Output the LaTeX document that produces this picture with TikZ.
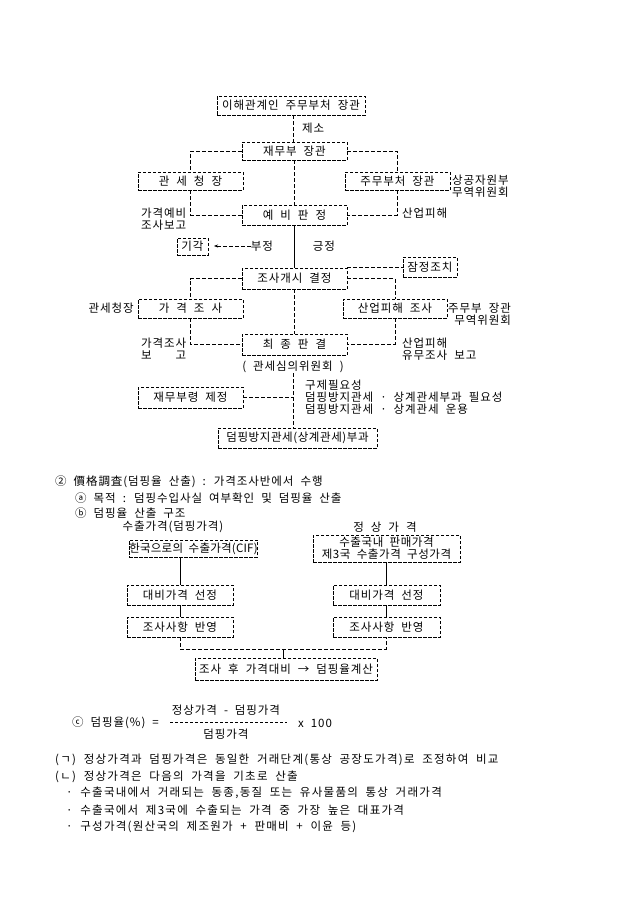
\documentclass[tikz,border=0pt]{standalone}
\usepackage{fontspec}
\usepackage{calc}
\setmainfont{Noto Sans CJK KR}[WordSpace=2.0, LetterSpace=8]
\usetikzlibrary{arrows.meta}
\newcommand{\fs}{\fontsize{11.5}{12}\selectfont}
\newcommand{\tight}[1]{\addfontfeatures{LetterSpace=#1}}
\tikzset{
  bx/.style={draw, dash pattern=on 3.5pt off 1.5pt, line width=0.6pt, inner sep=0pt, font=\fs},
  ln/.style={dash pattern=on 4pt off 2pt, line width=0.6pt},
  sl/.style={line width=0.6pt},
  lb/.style={inner sep=0pt, font=\fs},
  nt/.style={inner sep=0pt, font=\fs\tight{11}, anchor=west},
}
\begin{document}
\begin{tikzpicture}[x=1pt,y=-1pt]
\useasboundingbox[fill=white] (0,0) rectangle (640,905);
% ---------- top diagram ----------
\node[bx, minimum width=148pt, minimum height=19pt] (n1) at (291,105.5) {이해관계인 주무부처 장관};
\node[lb, anchor=west] (jeso) at (302,128) {제소};
\node[bx, minimum width=105pt, minimum height=18pt] (n2) at (294.5,151) {재무부 장관};
\node[bx, minimum width=105pt, minimum height=18pt] (n3) at (190.5,181) {관 세 청 장};
\node[bx, minimum width=105pt, minimum height=18pt] (n4) at (397.5,181) {주무부처 장관};
\node[lb, anchor=west, align=right] (sang) at (452,186.5) {상공자원부\\무역위원회};
\node[bx, minimum width=105pt, minimum height=20pt] (n5) at (294.5,215) {예 비 판 정};
\node[lb, anchor=west, align=left] (gy) at (141,219) {가격예비\\조사보고};
\node[lb, anchor=west] (sp1) at (402,213) {산업피해};
\node[bx, minimum width=31pt, minimum height=17pt] (gigak) at (192.5,246.5) {기각};
\node[lb] (bujeong) at (262,246) {부정};
\node[lb] (geung) at (324,246) {긍정};
\coordinate (arr) at (214,246);
\node[bx, minimum width=54pt, minimum height=20pt] (jj) at (430,267) {잠정조치};
\node[bx, minimum width=105pt, minimum height=21pt] (n6) at (294.5,278.5) {조사개시 결정};
\node[bx, minimum width=105pt, minimum height=19pt] (n7) at (190.5,308.5) {가 격 조 사};
\node[bx, minimum width=104pt, minimum height=19pt] (n8) at (395,308.5) {산업피해 조사};
\node[lb, anchor=east] (gw) at (134,308) {관세청장};
\node[lb, anchor=west, align=right] (jm) at (448,314) {주무부 장관\\무역위원회};
\node[bx, minimum width=105pt, minimum height=21pt] (n9) at (294.5,344.5) {최 종 판 결};
\node[lb, anchor=west, align=left] (gr) at (141,349) {가격조사\\\makebox[\widthof{가격조사}][s]{보\hfill 고}};
\node[lb, anchor=west, align=left] (sr) at (402,349) {산업피해\\유무조사 보고};
\node[lb] (gsw) at (293,367) {( 관세심의위원회 )};
\node[bx, minimum width=105pt, minimum height=21pt] (n10) at (190.5,397.5) {재무부령 제정};
\node[lb, anchor=west, align=left] (gj) at (305,397.5) {구제필요성\\덤핑방지관세 · 상계관세부과 필요성\\덤핑방지관세 · 상계관세 운용};
\node[bx, minimum width=159pt, minimum height=20pt, font=\fs\tight{5}] (n11) at (297.5,438) {덤핑방지관세(상계관세)부과};
% connectors
\draw[ln] (n1.south -| jeso.west) ++(-9,0) coordinate (t1) -- (t1 |- n2.north);
\draw[ln] (n2.west) -| (n3.north);
\draw[ln] (n2.east) -| (n4.north);
\draw[ln] (n2.south) -- (n5.north);
\draw[ln] (n3.south) |- (n5.west);
\draw[ln] (n4.south) |- (n5.east);
\draw[sl] (n5.south) -- (n6.north);
\draw[ln, -{Stealth[length=4pt,width=3pt]}] (bujeong.west) -- (arr);
\draw[ln] (n6.north east) -- (n6.north east -| jj.west);
\draw[ln] (n6.west) -| (n7.north);
\draw[ln] (n6.east) -| (n8.north);
\draw[ln] (n6.south) -- (n9.north);
\draw[ln] (n7.south) |- (n9.west);
\draw[ln] (n8.south) |- (n9.east);
\draw[ln] (gsw.south) -- (gsw.south |- n11.north);
\draw[ln] (n10.east) -- (n10.east -| gsw.south);
% ---------- second section ----------
\node[lb, anchor=west] (h2) at (55,482) {② 價格調査(덤핑율 산출) : 가격조사반에서 수행};
\node[lb, anchor=west] (ha) at (75,498) {ⓐ 목적 : 덤핑수입사실 여부확인 및 덤핑율 산출};
\node[lb, anchor=west] (hb) at (75,513) {ⓑ 덤핑율 산출 구조};
\node[lb] (t1l) at (173,527) {수출가격(덤핑가격)};
\node[lb] (t1r) at (385,527) {정 상 가 격};
\node[bx, minimum width=113pt, minimum height=17pt, font=\fs\tight{2}] (b1) at (193.5,548.5) {한국으로의 수출가격(CIF)};
\node[bx, minimum width=147pt, minimum height=27pt, align=center, font=\fs\tight{5}] (b2) at (386.5,548.5) {수출국내 판매가격\\제3국 수출가격 구성가격};
\node[bx, minimum width=106pt, minimum height=20pt] (b3) at (180,595) {대비가격 선정};
\node[bx, minimum width=107pt, minimum height=20pt] (b4) at (386.5,595) {대비가격 선정};
\node[bx, minimum width=106pt, minimum height=20pt] (b5) at (180,627) {조사사항 반영};
\node[bx, minimum width=107pt, minimum height=20pt] (b6) at (386.5,627) {조사사항 반영};
\node[bx, minimum width=182pt, minimum height=22pt] (b7) at (286,669) {조사 후 가격대비 → 덤핑율계산};
\coordinate (jl) at (180,649);
\coordinate (jr) at (386.5,649);
\draw[sl] (b1.south -| b3.north) -- (b3.north);
\draw[sl] (b2.south) -- (b4.north);
\draw[sl] (b3.south) -- (b5.north);
\draw[sl] (b4.south) -- (b6.north);
\draw[ln] (b5.south) -- (jl) -- (jr) -- (b6.south);
\draw[sl] (jl -| 283,0) -- (b7.north -| 283,0);
% formula
\node[lb, anchor=west] (fc) at (72,723) {ⓒ 덤핑율(\%) =};
\node[lb] (fnum) at (226,710) {정상가격 - 덤핑가격};
\node[lb] (fden) at (226,734) {덤핑가격};
\coordinate (fb1) at (170,722);
\coordinate (fb2) at (287,722);
\draw[line width=0.6pt, dash pattern=on 3pt off 2pt] (fb1) -- (fb2);
\node[lb, anchor=west] (fx) at (298,723) {x 100};
% notes
\node[nt] (g1) at (55,760) {(ㄱ) 정상가격과 덤핑가격은 동일한 거래단계(통상 공장도가격)로 조정하여 비교};
\node[nt] (g2) at (55,777) {(ㄴ) 정상가격은 다음의 가격을 기초로 산출};
\node[nt] (d1) at (66,793) {· 수출국내에서 거래되는 동종,동질 또는 유사물품의 통상 거래가격};
\node[nt] (d2) at (66,810) {· 수출국에서 제3국에 수출되는 가격 중 가장 높은 대표가격};
\node[nt] (d3) at (66,827) {· 구성가격(원산국의 제조원가 + 판매비 + 이윤 등)};
\end{tikzpicture}
\end{document}
